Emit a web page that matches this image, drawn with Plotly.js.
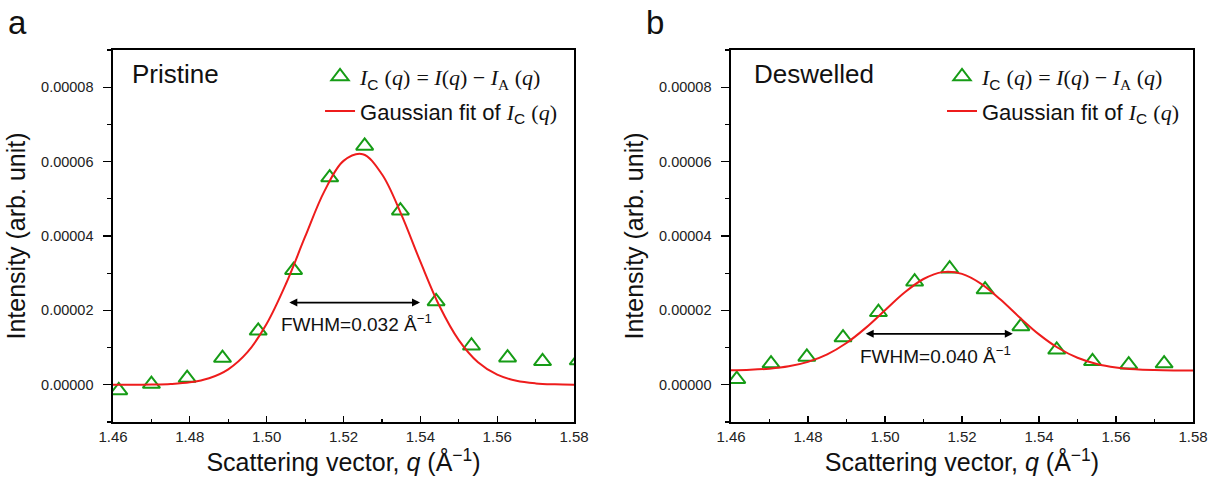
<!DOCTYPE html>
<html><head><meta charset="utf-8">
<script src="https://cdn.plot.ly/plotly-3.0.1.min.js"></script>
<style>html,body{margin:0;padding:0;background:#fff}#chart{width:1217px;height:487px}</style>
</head><body><div id="chart"></div>
<script>
// Panel a (Pristine): measured I_C(q)
const qPristine = [1.4615,1.4700,1.4793,1.4885,1.4978,1.5070,1.5164,1.5255,1.5348,1.5441,1.5533,1.5627,1.5718,1.5811];
const icPristine = [-1.5e-6,0.2e-6,1.8e-6,7.2e-6,14.5e-6,30.8e-6,55.7e-6,64.2e-6,46.8e-6,22.4e-6,10.5e-6,7.3e-6,6.3e-6,6.5e-6];
// Panel b (Deswelled): measured I_C(q)
const qDeswelled = [1.4615,1.4704,1.4797,1.4891,1.4983,1.5077,1.5168,1.5260,1.5353,1.5446,1.5539,1.5633,1.5725];
const icDeswelled = [1.5e-6,5.7e-6,7.5e-6,12.7e-6,19.5e-6,27.7e-6,31.2e-6,25.6e-6,15.7e-6,9.4e-6,6.3e-6,5.4e-6,5.7e-6];
// Gaussian fit curves
const qFit = [1.460,1.465,1.470,1.475,1.480,1.485,1.490,1.495,1.500,1.505,1.510,1.515,1.520,1.525,1.530,1.535,1.540,1.545,1.550,1.555,1.560,1.565,1.570,1.575,1.580];
const fitPristine = [0.0,0.02e-6,0.07e-6,0.22e-6,0.66e-6,1.77e-6,4.17e-6,8.77e-6,16.4e-6,27.1e-6,39.8e-6,52.0e-6,60.2e-6,62.0e-6,56.6e-6,45.9e-6,33.1e-6,21.1e-6,12.0e-6,6.05e-6,2.71e-6,1.08e-6,0.38e-6,0.12e-6,0.03e-6];
const fitDeswelled = [3.88e-6,4.02e-6,4.33e-6,4.97e-6,6.17e-6,8.19e-6,11.24e-6,15.3e-6,20.03e-6,24.72e-6,28.44e-6,30.29e-6,29.81e-6,27.13e-6,22.91e-6,18.09e-6,13.56e-6,9.89e-6,7.27e-6,5.61e-6,4.66e-6,4.17e-6,3.95e-6,3.85e-6,3.82e-6];
// Tick labels / text
const xTickVals = [1.46,1.48,1.50,1.52,1.54,1.56,1.58];
const yTickVals = [0,0.00002,0.00004,0.00006,0.00008];
const panelNames = ['Pristine','Deswelled'];
const fwhmText = ['FWHM=0.032 Å<sup>−1</sup>','FWHM=0.040 Å<sup>−1</sup>'];

const FONT = "'Liberation Sans', Arial, sans-serif";
const green = '#169c16', red = '#ee1c1c';
const sI = '<span style="font-family:Liberation Serif"><i>I</i></span>';
const sq = '<span style="font-family:Liberation Serif">(<i>q</i>)</span>';
const legendMath = sI + '<sub>C</sub> ' + sq + ' <span style="font-family:Liberation Serif">= <i>I</i>(<i>q</i>) − <i>I</i><sub>A</sub> (<i>q</i>)</span>';
const legendFit = 'Gaussian fit of ' + sI + '<sub>C</sub> ' + sq;

function traces(q, ic, fit, xa, ya, lg, grp) {
  return [
    {x:q, y:ic, type:'scatter', mode:'markers', xaxis:xa, yaxis:ya, legend:lg, legendgroup:grp+'m', name:legendMath,
     marker:{symbol:'triangle-up-open', size:15, color:green, line:{width:2, color:green}}},
    {x:qFit, y:fit, type:'scatter', mode:'lines', xaxis:xa, yaxis:ya, legend:lg, legendgroup:grp+'l', name:legendFit,
     line:{color:red, width:2, shape:'spline'}}
  ];
}
const data = [].concat(
  traces(qPristine, icPristine, fitPristine, 'x', 'y', 'legend', 'a'),
  traces(qDeswelled, icDeswelled, fitDeswelled, 'x2', 'y2', 'legend2', 'b')
);

function xax(dom, anchor) {
  return {domain:dom, anchor:anchor, range:[1.46,1.58], tickvals:xTickVals, tickformat:'.2f',
    ticks:'inside', ticklen:6, tickwidth:1.3, tickcolor:'#000',
    minor:{dtick:0.01, tick0:1.46, ticks:'inside', ticklen:3, tickwidth:1.1, tickcolor:'#000'},
    showline:true, linecolor:'#000', linewidth:1.6, mirror:true, showgrid:false, zeroline:false,
    tickfont:{family:FONT, size:15, color:'#222'},
    title:{text:'Scattering vector, <i>q</i> (Å<sup>−1</sup>)', font:{family:FONT, size:25, color:'#111'}, standoff:5}};
}
function yax(anchor) {
  return {domain:[0,1], anchor:anchor, range:[-0.00001,0.00009], tickvals:yTickVals, tickformat:'.5f',
    ticks:'outside', ticklen:8, tickwidth:1.3, tickcolor:'#000', ticklabelstandoff:7,
    minor:{dtick:0.00001, tick0:0, ticks:'outside', ticklen:4, tickwidth:1.1, tickcolor:'#000'},
    showline:true, linecolor:'#000', linewidth:1.6, mirror:true, showgrid:false, zeroline:false,
    tickfont:{family:FONT, size:14.5, color:'#222'},
    title:{text:'Intensity (arb. unit)', font:{family:FONT, size:25, color:'#111'}, standoff:8}};
}
const legendBase = {xanchor:'left', yanchor:'top', font:{family:FONT, size:22, color:'#111'},
  bgcolor:'rgba(0,0,0,0)', tracegroupgap:3, traceorder:'grouped', itemwidth:30};

const annotations = [
  {xref:'x domain', yref:'y domain', x:0.037, y:0.935, xanchor:'left', yanchor:'middle', showarrow:false,
   text:panelNames[0], font:{family:FONT, size:26, color:'#111'}},
  {xref:'x2 domain', yref:'y2 domain', x:0.045, y:0.935, xanchor:'left', yanchor:'middle', showarrow:false,
   text:panelNames[1], font:{family:FONT, size:26, color:'#111'}},
  {xref:'paper', yref:'paper', x:-0.099, y:1.075, xanchor:'left', yanchor:'middle', showarrow:false,
   text:'a', font:{family:FONT, size:33, color:'#111'}},
  {xref:'paper', yref:'paper', x:0.4915, y:1.075, xanchor:'left', yanchor:'middle', showarrow:false,
   text:'b', font:{family:FONT, size:33, color:'#111'}},
  {xref:'x', yref:'y', axref:'x', ayref:'y', x:1.5399, y:2.21e-5, ax:1.5055, ay:2.21e-5, text:'',
   showarrow:true, arrowside:'end+start', arrowhead:2, arrowsize:1, arrowwidth:1.6, arrowcolor:'#000'},
  {xref:'x', yref:'y', x:1.5234, y:1.67e-5, showarrow:false, text:fwhmText[0], font:{family:FONT, size:19, color:'#111'}},
  {xref:'x2', yref:'y2', axref:'x2', ayref:'y2', x:1.5332, y:1.37e-5, ax:1.4946, ay:1.37e-5, text:'',
   showarrow:true, arrowside:'end+start', arrowhead:2, arrowsize:1, arrowwidth:1.6, arrowcolor:'#000'},
  {xref:'x2', yref:'y2', x:1.513, y:0.81e-5, showarrow:false, text:fwhmText[1], font:{family:FONT, size:19, color:'#111'}}
];

const layout = {
  width:1217, height:487, margin:{l:113, r:24, t:50, b:65},
  paper_bgcolor:'#fff', plot_bgcolor:'#fff', showlegend:true,
  xaxis:xax([0,0.4269],'y'), yaxis:yax('x'),
  xaxis2:xax([0.5722,1],'y2'), yaxis2:yax('x2'),
  legend:Object.assign({x:0.1917, y:0.985}, legendBase),
  legend2:Object.assign({x:0.7676, y:0.985}, legendBase),
  annotations:annotations
};
Plotly.newPlot('chart', data, layout, {displayModeBar:false, staticPlot:true});
</script></body></html>
